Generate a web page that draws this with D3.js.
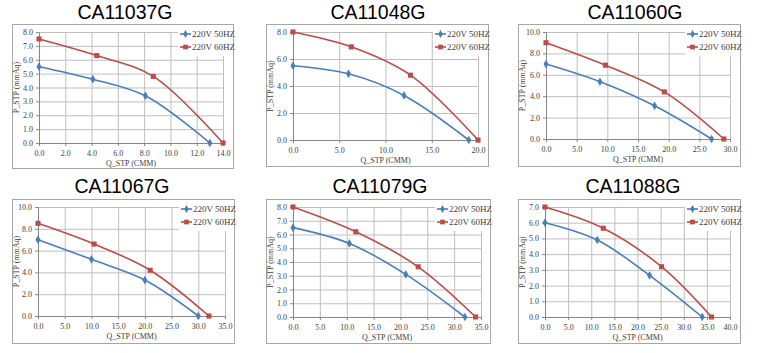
<!DOCTYPE html>
<html>
<head>
<meta charset="utf-8">
<script src="https://cdn.jsdelivr.net/npm/d3@7"></script>
<style>
  body { margin: 0; background: #fff; }
  .title { font-family: "Liberation Sans", Arial, sans-serif; font-size: 19.5px; fill: #000; }
  .tick text, .axisLabel, .legend text { font-family: "Liberation Serif", "Times New Roman", serif; fill: #404040; }
</style>
</head>
<body>
<div id="chart"></div>
<script>
// fan models
var titles = ["CA11037G", "CA11048G", "CA11060G", "CA11067G", "CA11079G", "CA11088G"];
var seriesNames = ["220V 50HZ", "220V 60HZ"];

// axis ranges / tick steps
var xMax = [14, 20, 30, 35, 35, 40];
var xStep = [2, 5, 5, 5, 5, 5];
var yMax = [8, 8, 10, 10, 8, 7];
var yStep = [1, 2, 2, 2, 1, 1];

// 220V 50HZ: flow (CMM) and static pressure (mmAq)
var q50 = [
    [0, 4.1, 8.1, 13],
    [0, 6.0, 12.0, 19],
    [0, 8.8, 17.7, 27],
    [0, 10.0, 20.0, 30],
    [0, 10.5, 21.0, 32],
    [0, 11.3, 22.6, 34]
];
var p50 = [
    [5.5, 4.6, 3.4, 0],
    [5.5, 4.9, 3.3, 0],
    [7.0, 5.35, 3.1, 0],
    [7.0, 5.2, 3.3, 0],
    [6.5, 5.35, 3.1, 0],
    [6.0, 4.9, 2.65, 0]
];

// 220V 60HZ
var q60 = [
    [0, 4.4, 8.7, 14],
    [0, 6.3, 12.7, 20],
    [0, 9.7, 19.3, 29],
    [0, 10.5, 21.0, 32],
    [0, 11.7, 23.3, 34],
    [0, 12.6, 25.2, 36]
];
var p60 = [
    [7.5, 6.3, 4.8, 0],
    [8.0, 6.9, 4.8, 0],
    [9.0, 6.9, 4.4, 0],
    [8.5, 6.6, 4.2, 0],
    [8.0, 6.2, 3.65, 0],
    [7.0, 5.65, 3.2, 0]
];

var width = 758;
var height = 353;

// panel frames and plot areas (pixels)
var layout = [
    {fx: 12, fy: 24, fw: 221, fh: 144, x0: 39, x1: 223, yT: 32, yB: 143, tx: 125, ty: 19},
    {fx: 266, fy: 24, fw: 222, fh: 142, x0: 293, x1: 478, yT: 32, yB: 140, tx: 378, ty: 19},
    {fx: 518, fy: 24, fw: 222, fh: 142, x0: 546, x1: 730, yT: 32, yB: 139, tx: 635, ty: 19},
    {fx: 12, fy: 199, fw: 222, fh: 144, x0: 38, x1: 225, yT: 207, yB: 316, tx: 122, ty: 193},
    {fx: 266, fy: 199, fw: 224, fh: 144, x0: 293, x1: 481, yT: 207, yB: 317, tx: 380, ty: 193},
    {fx: 518, fy: 199, fw: 222, fh: 144, x0: 545, x1: 730, yT: 207, yB: 317, tx: 633, ty: 193}
];

var colors = ["#4a7ebb", "#be4b48"];

var svg = d3.select("#chart")
    .append("svg")
    .attr("width", width)
    .attr("height", height);

titles.forEach(function(title, i) {
    var L = layout[i];
    var g = svg.append("g");

    g.append("text")
        .attr("class", "title")
        .attr("x", L.tx)
        .attr("y", L.ty)
        .attr("text-anchor", "middle")
        .text(title);

    g.append("rect")
        .attr("x", L.fx + 0.5)
        .attr("y", L.fy + 0.5)
        .attr("width", L.fw)
        .attr("height", L.fh)
        .attr("fill", "#fff")
        .attr("stroke", "#a6a6a6");

    var xScale = d3.scaleLinear()
        .domain([0, xMax[i]])
        .range([L.x0, L.x1]);

    var yScale = d3.scaleLinear()
        .domain([0, yMax[i]])
        .range([L.yB, L.yT]);

    var xTicks = d3.range(0, xMax[i] + 0.001, xStep[i]);
    var yTicks = d3.range(0, yMax[i] + 0.001, yStep[i]);

    // grid
    g.append("g")
        .attr("transform", `translate(0,${L.yB})`)
        .call(d3.axisBottom(xScale).tickValues(xTicks).tickSize(-(L.yB - L.yT)).tickFormat(""))
        .call(function(a) { a.select(".domain").remove(); })
        .selectAll("line").attr("stroke", "#bfbfbf");

    g.append("g")
        .attr("transform", `translate(${L.x0},0)`)
        .call(d3.axisLeft(yScale).tickValues(yTicks).tickSize(-(L.x1 - L.x0)).tickFormat(""))
        .call(function(a) { a.select(".domain").remove(); })
        .selectAll("line").attr("stroke", "#bfbfbf");

    // axes
    var xAxis = g.append("g")
        .attr("transform", `translate(0,${L.yB})`)
        .call(d3.axisBottom(xScale).tickValues(xTicks).tickSize(3).tickSizeOuter(0).tickPadding(4).tickFormat(d3.format(".1f")));

    var yAxis = g.append("g")
        .attr("transform", `translate(${L.x0},0)`)
        .call(d3.axisLeft(yScale).tickValues(yTicks).tickSize(3).tickSizeOuter(0).tickPadding(3).tickFormat(d3.format(".1f")));

    [xAxis, yAxis].forEach(function(a) {
        a.selectAll(".domain, line").attr("stroke", "#868686");
        a.selectAll("text").attr("font-size", 8).attr("font-family", null);
    });

    g.append("text")
        .attr("class", "axisLabel")
        .attr("x", (L.x0 + L.x1) / 2)
        .attr("y", L.yB + 23)
        .attr("text-anchor", "middle")
        .attr("font-size", 8)
        .text("Q_STP (CMM)");

    g.append("text")
        .attr("class", "axisLabel")
        .attr("transform", "rotate(-90)")
        .attr("x", -(L.yT + L.yB) / 2)
        .attr("y", L.fx + 7)
        .attr("text-anchor", "middle")
        .attr("font-size", 8)
        .text("P_STP (mmAq)");

    // series
    var allSeries = [
        {q: q50[i], p: p50[i], shape: d3.symbolDiamond, size: 22},
        {q: q60[i], p: p60[i], shape: d3.symbolSquare, size: 26}
    ];

    var line = d3.line()
        .x(function(d) { return xScale(d[0]); })
        .y(function(d) { return yScale(d[1]); })
        .curve(d3.curveCatmullRom.alpha(0.5));

    allSeries.forEach(function(s, k) {
        var pts = s.q.map(function(q, j) { return [q, s.p[j]]; });
        g.append("path")
            .datum(pts)
            .attr("d", line)
            .attr("fill", "none")
            .attr("stroke", colors[k])
            .attr("stroke-width", 1.6);

        g.selectAll(null)
            .data(pts)
            .enter()
            .append("path")
                .attr("transform", function(d) { return `translate(${xScale(d[0])},${yScale(d[1])})`; })
                .attr("d", d3.symbol().type(s.shape).size(s.size))
                .attr("fill", colors[k]);
    });

    // legend
    var lx = L.fx + L.fw - 55;
    var legend = g.append("g")
        .attr("class", "legend");

    legend.append("rect")
        .attr("x", lx)
        .attr("y", L.fy + 2)
        .attr("width", 54)
        .attr("height", 30)
        .attr("fill", "#fff");

    seriesNames.forEach(function(name, k) {
        var ly = L.fy + 10 + k * 13;
        legend.append("line")
            .attr("x1", lx + 2)
            .attr("x2", lx + 13)
            .attr("y1", ly)
            .attr("y2", ly)
            .attr("stroke", colors[k])
            .attr("stroke-width", 1.6);
        legend.append("path")
            .attr("transform", `translate(${lx + 7.5},${ly})`)
            .attr("d", d3.symbol().type(k === 0 ? d3.symbolDiamond : d3.symbolSquare).size(k === 0 ? 18 : 22))
            .attr("fill", colors[k]);
        legend.append("text")
            .attr("x", lx + 14)
            .attr("y", ly + 3)
            .attr("font-size", 9)
            .text(name);
    });
});
</script>
</body>
</html>
